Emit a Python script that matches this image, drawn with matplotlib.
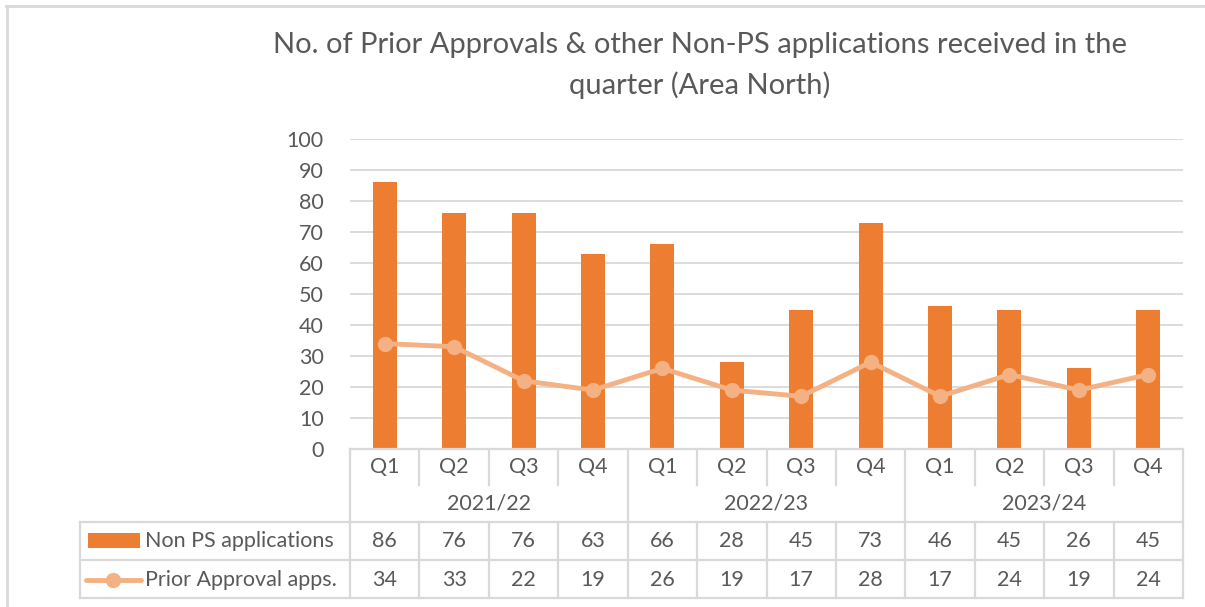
import matplotlib
matplotlib.use("Agg")
import matplotlib.pyplot as plt
from matplotlib.lines import Line2D
from matplotlib.patches import Rectangle
from matplotlib.transforms import blended_transform_factory

plt.rcParams["font.family"] = ["Lato", "DejaVu Sans"]

# data
quarters = ["Q1", "Q2", "Q3", "Q4"] * 3
years = ["2021/22", "2022/23", "2023/24"]
non_ps = [86, 76, 76, 63, 66, 28, 45, 73, 46, 45, 26, 45]
prior_approval = [34, 33, 22, 19, 26, 19, 17, 28, 17, 24, 19, 24]
series_names = ["Non PS applications", "Prior Approval apps."]

BAR = "#ED7D31"
LINE = "#F4B183"
TXT = "#595959"
GRID = "#D9D9D9"
FS = 15.5

W, H = 1205, 607
fig = plt.figure(figsize=(W / 100, H / 100), dpi=100)


def fy(py):
    return 1 - py / H


def fx(px):
    return px / W


# plot area in pixel terms
left, right, top, bottom = 350, 1183, 139, 449
ax = fig.add_axes([fx(left), fy(bottom), fx(right - left), (bottom - top) / H])

x = list(range(len(non_ps)))
ax.bar(x, non_ps, width=0.345, color=BAR, zorder=2)
ax.plot(x, prior_approval, color=LINE, lw=3.5, marker="o", ms=10,
        solid_capstyle="round", zorder=3)

ax.set_xlim(-0.5, len(x) - 0.5)
ax.set_ylim(0, 100)
ax.set_yticks(range(0, 101, 10))
ax.yaxis.grid(True, color=GRID, lw=1.3)
ax.set_axisbelow(True)
ax.set_xticks([])
for s in ax.spines.values():
    s.set_visible(False)
ax.tick_params(axis="y", length=0, labelsize=FS, labelcolor=TXT, pad=19)

# title
fig.text(fx(700), fy(45), "No. of Prior Approvals & other Non-PS applications received in the",
         ha="center", va="center", fontsize=21, color=TXT)
fig.text(fx(700), fy(85), "quarter (Area North)",
         ha="center", va="center", fontsize=21, color=TXT)

# data table below the axis
tr = blended_transform_factory(ax.transData, fig.transFigure)
rows = [449, 486, 522, 560, 598]


def hline(x0, x1, py, t=fig.transFigure):
    fig.add_artist(Line2D([x0, x1], [fy(py), fy(py)], transform=t, color=GRID, lw=1.6))


def vline(xv, py0, py1, t=tr):
    fig.add_artist(Line2D([xv, xv], [fy(py0), fy(py1)], transform=t, color=GRID, lw=1.6))


hline(-0.5, len(x) - 0.5, rows[0], tr)
hline(-0.5, len(x) - 0.5, rows[2], tr)
hline(fx(80), fx(left), rows[2])
for r in rows[3:]:
    hline(fx(80), fx(right), r)

# quarter separators (Q row only) and year separators (both rows)
for i in range(len(x) + 1):
    b = i - 0.5
    if i % 4 == 0:
        vline(b, rows[0], rows[4])
    else:
        vline(b, rows[0], rows[1] - 1)
        vline(b, rows[2], rows[4])
vline(fx(80), rows[2], rows[4], fig.transFigure)

for i, q in enumerate(quarters):
    fig.text(i, fy(467), q, transform=tr, ha="center", va="center", fontsize=FS, color=TXT)
    fig.text(i, fy(541), str(non_ps[i]), transform=tr, ha="center", va="center",
             fontsize=FS, color=TXT)
    fig.text(i, fy(580), str(prior_approval[i]), transform=tr, ha="center", va="center",
             fontsize=FS, color=TXT)
for j, yr in enumerate(years):
    fig.text(j * 4 + 1.5, fy(504), yr, transform=tr, ha="center", va="center",
             fontsize=FS, color=TXT)

# legend keys inside the table
fig.add_artist(Rectangle((fx(88), fy(548)), fx(52), 15 / H, transform=fig.transFigure,
                         color=BAR, lw=0))
fig.add_artist(Line2D([fx(86), fx(141)], [fy(580), fy(580)], transform=fig.transFigure,
                      color=LINE, lw=3.5, solid_capstyle="round"))
fig.add_artist(Line2D([fx(113)], [fy(580)], transform=fig.transFigure, color=LINE,
                      marker="o", ms=10, lw=0))
fig.text(fx(145), fy(541), series_names[0], ha="left", va="center", fontsize=FS, color=TXT)
fig.text(fx(145), fy(580), series_names[1], ha="left", va="center", fontsize=FS, color=TXT)

# chart frame
fig.add_artist(Line2D([fx(6), fx(1203)], [fy(6), fy(6)], transform=fig.transFigure,
                      color=GRID, lw=2))
fig.add_artist(Line2D([fx(7), fx(7)], [fy(6), fy(607)], transform=fig.transFigure,
                      color=GRID, lw=2))

fig.savefig("out.png", dpi=100)
